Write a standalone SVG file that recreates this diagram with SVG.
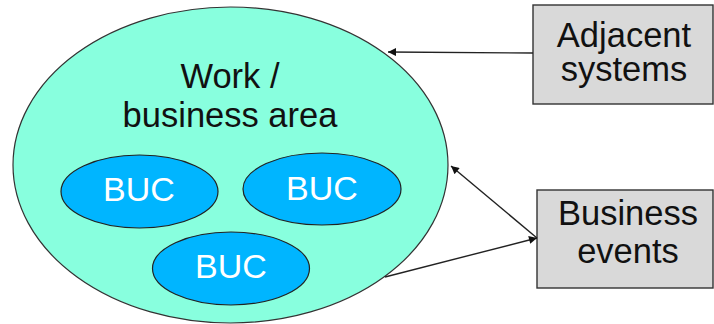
<svg xmlns="http://www.w3.org/2000/svg" width="714" height="324" viewBox="0 0 714 324">
  <defs>
    <style>
      .area { fill: #88FFDE; stroke: #333; stroke-width: 1.2; }
      .buc { fill: #00B5FF; stroke: #222; stroke-width: 1.2; }
      .box { fill: #D9D9D9; stroke: #333; stroke-width: 1.4; }
      .lbl { font-family: "Liberation Sans", Arial, sans-serif; font-size: 34.5px; text-anchor: middle; fill: #111; }
      .bucl { font-family: "Liberation Sans", Arial, sans-serif; font-size: 34px; text-anchor: middle; fill: #fff; }
      .conn { stroke: #222; stroke-width: 1.4; fill: none; marker-end: url(#arrow); }
    </style>
    <marker id="arrow" viewBox="0 0 10 10" refX="10" refY="5" markerWidth="10" markerHeight="8" markerUnits="userSpaceOnUse" orient="auto">
      <path d="M0,0 L10,5 L0,10 z" fill="#111"/>
    </marker>
  </defs>

  <!-- work / business area with its business use cases -->
  <g id="work-area">
    <ellipse class="area" cx="230.5" cy="165" rx="217.5" ry="158"/>
    <text class="lbl" x="230" y="88">Work /</text>
    <text class="lbl" x="230" y="127">business area</text>
  </g>
  <g id="buc-1">
    <ellipse class="buc" cx="139.5" cy="191.5" rx="78.5" ry="36.5"/>
    <text class="bucl" x="139" y="201">BUC</text>
  </g>
  <g id="buc-2">
    <ellipse class="buc" cx="322" cy="189" rx="79" ry="36"/>
    <text class="bucl" x="322" y="200">BUC</text>
  </g>
  <g id="buc-3">
    <ellipse class="buc" cx="231" cy="268.5" rx="78.5" ry="36.5"/>
    <text class="bucl" x="231" y="278">BUC</text>
  </g>

  <!-- external boxes -->
  <g id="adjacent-systems">
    <rect class="box" x="533" y="5" width="180" height="99"/>
    <text class="lbl" x="624" y="47">Adjacent</text>
    <text class="lbl" x="624" y="81">systems</text>
  </g>
  <g id="business-events">
    <rect class="box" x="537" y="190" width="176" height="98"/>
    <text class="lbl" x="628" y="225">Business</text>
    <text class="lbl" x="628" y="263">events</text>
  </g>

  <!-- connectors -->
  <g id="connectors">
    <line class="conn" x1="533" y1="53" x2="388" y2="52"/>
    <line class="conn" x1="537" y1="238" x2="451" y2="166"/>
    <line class="conn" x1="385" y1="277" x2="537" y2="238"/>
  </g>
</svg>
